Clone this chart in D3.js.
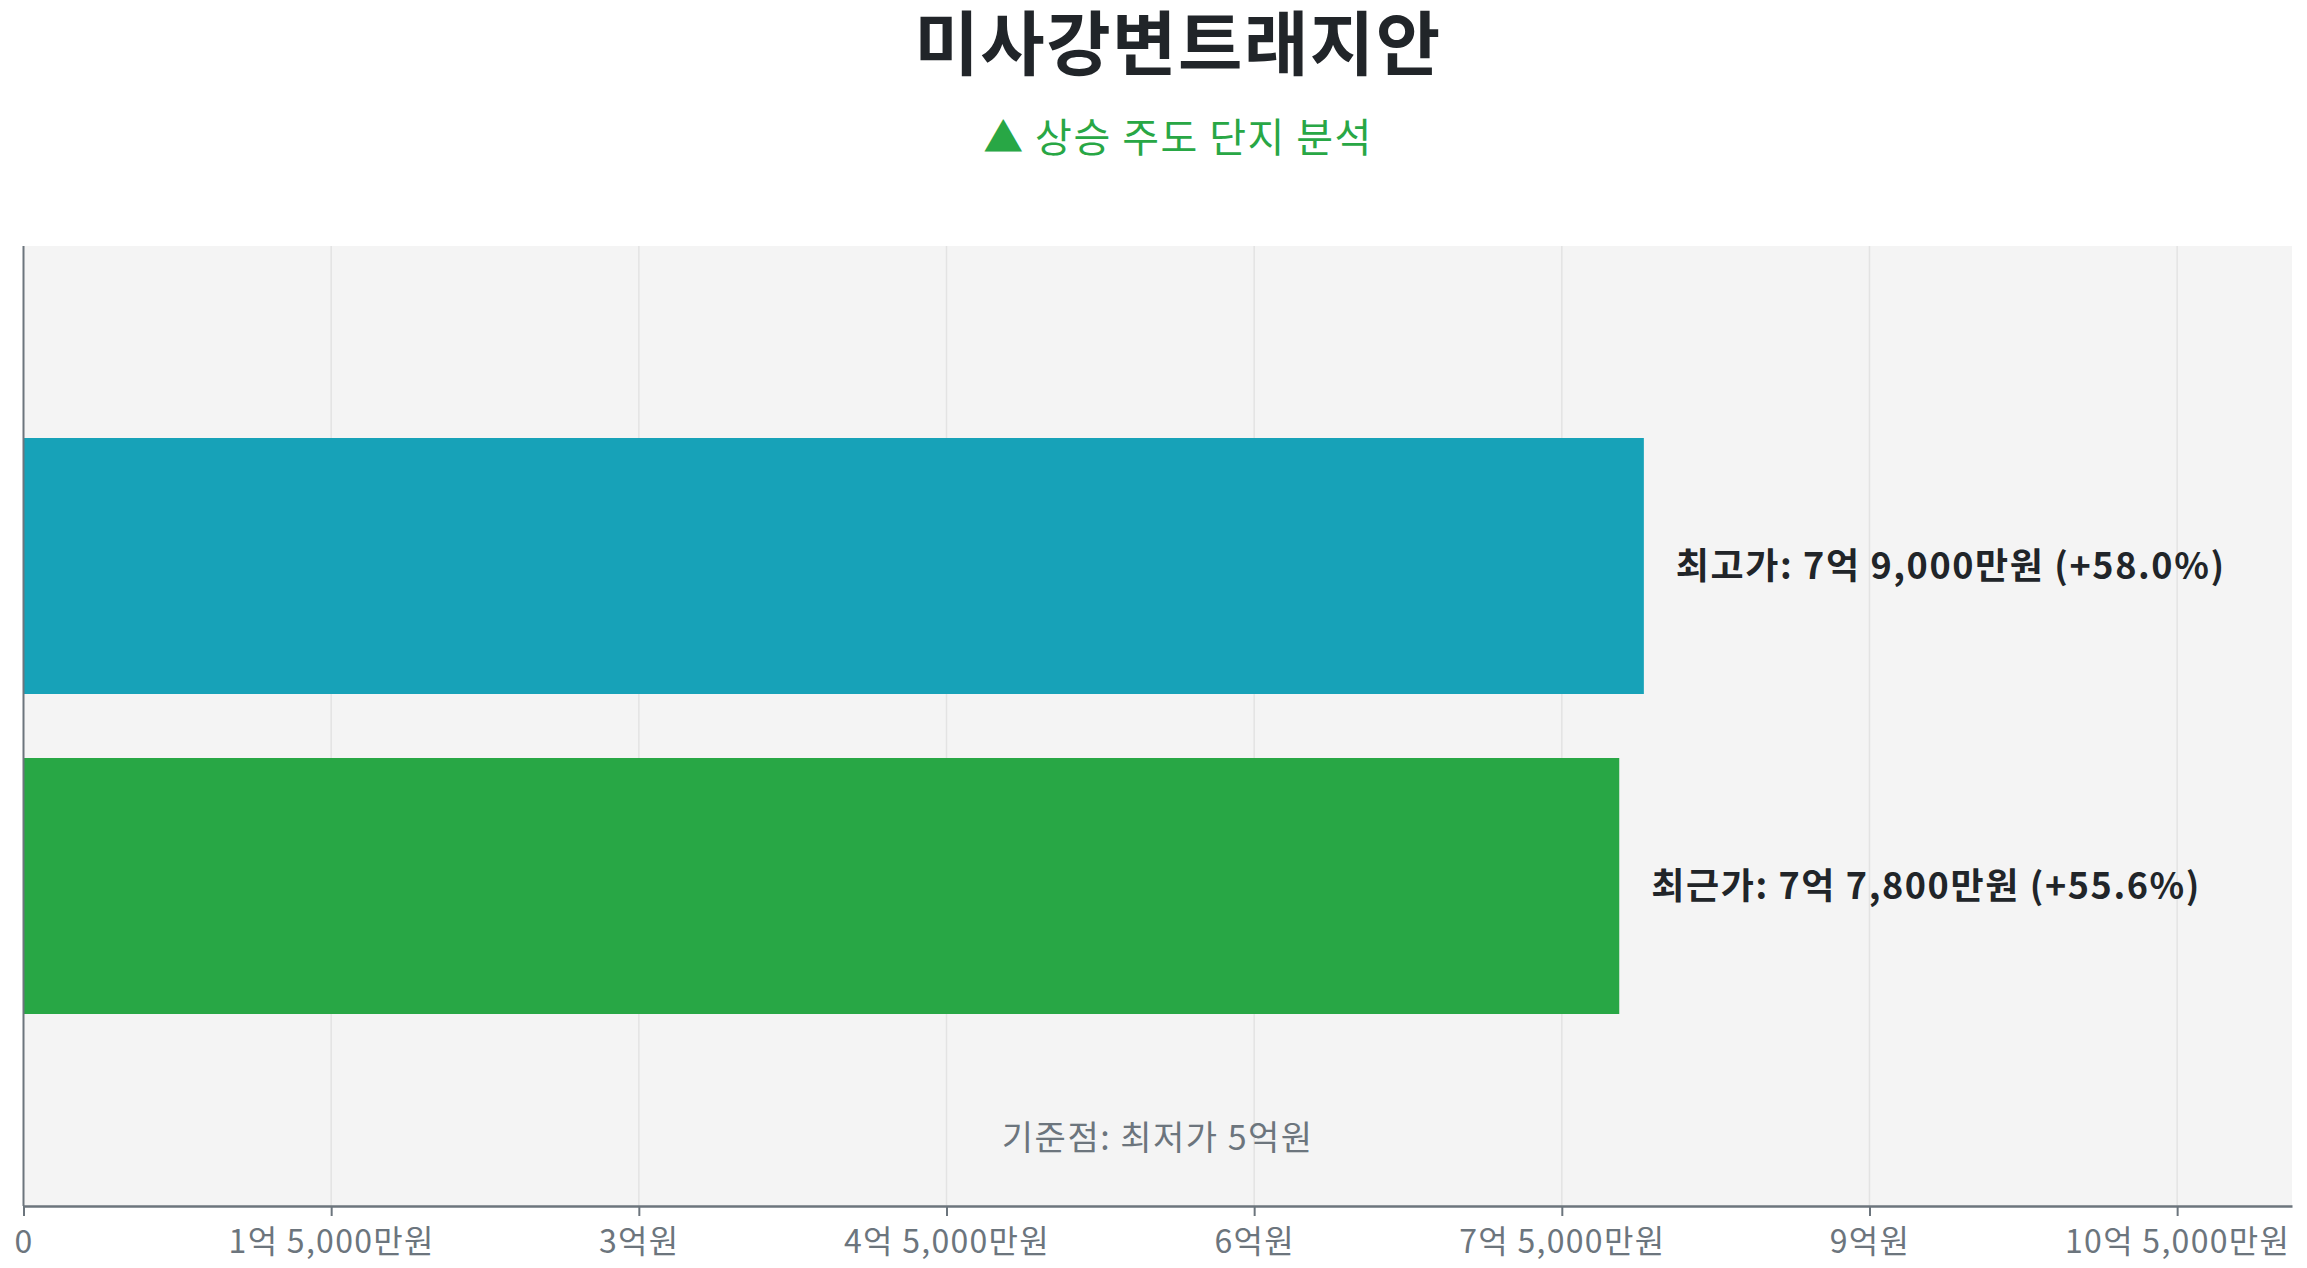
<!DOCTYPE html>
<html><head><meta charset="utf-8">
<script src="https://cdn.jsdelivr.net/npm/d3@7"></script>
<style>body{margin:0;background:#fff;font-family:"Noto Sans CJK KR","Noto Sans",sans-serif}</style>
</head><body><svg id="c" width="2307" height="1268"></svg>
<script>
const categories = ["최고가", "최근가"];
const values = [7.9, 7.78];
const changes = ["+58.0%", "+55.6%"];
const valueLabels = ["7억 9,000만원", "7억 7,800만원"];
const colors = ["#17a2b8", "#28a745"];
const tickValues = [0, 1.5, 3, 4.5, 6, 7.5, 9, 10.5];
const tickLabels = ["0", "1억 5,000만원", "3억원", "4억 5,000만원", "6억원", "7억 5,000만원", "9억원", "10억 5,000만원"];
const baseline = 5;

const svg = d3.select("#c");
const L = 23.5, R = 2292, T = 246, B = 1206;
const x = d3.scaleLinear().domain([0, 7.9 * 1.4]).range([L, R]);
const y = d3.scaleBand().domain(categories).range([T, B]).paddingInner(0.2).paddingOuter(0.6);

svg.append("rect").attr("x", L).attr("y", T).attr("width", R - L).attr("height", B - T).attr("fill", "#f4f4f4");
svg.append("g").selectAll("line").data(tickValues.slice(1)).join("line")
  .attr("x1", d => x(d)).attr("x2", d => x(d)).attr("y1", T).attr("y2", B)
  .attr("stroke", "#e3e3e3").attr("stroke-width", 1.5);

svg.append("g").selectAll("rect").data(categories).join("rect")
  .attr("x", L).attr("y", d => y(d)).attr("height", y.bandwidth())
  .attr("width", (d, i) => x(values[i]) - L).attr("fill", (d, i) => colors[i]);

svg.append("g").selectAll("text").data(categories).join("text")
  .attr("x", (d, i) => x(values[i]) + 32).attr("y", d => y(d) + y.bandwidth() / 2)
  .attr("dy", "0.35em").attr("font-size", 36).attr("letter-spacing", 1.6).attr("font-weight", "bold").attr("fill", "#212529")
  .text((d, i) => `${d}: ${valueLabels[i]} (${changes[i]})`);

const ax = svg.append("g").attr("transform", `translate(0,${B})`)
  .call(d3.axisBottom(x).tickValues(tickValues).tickFormat((d, i) => tickLabels[i]).tickSize(10).tickSizeOuter(0));
ax.select(".domain").attr("stroke", "#6c757d").attr("stroke-width", 2.5);
ax.selectAll(".tick line").attr("stroke", "#6c757d").attr("stroke-width", 2);
ax.selectAll(".tick text").attr("font-size", 32).attr("letter-spacing", 1.3).attr("fill", "#6c757d").attr("dy", "1.05em")
  .attr("font-family", '"Noto Sans CJK KR",sans-serif');
svg.append("line").attr("x1", L).attr("x2", L).attr("y1", T).attr("y2", B).attr("stroke", "#6c757d").attr("stroke-width", 2);

svg.append("text").attr("x", x(0) + (R - L) / 2).attr("y", 1150).attr("text-anchor", "middle")
  .attr("font-size", 34).attr("letter-spacing", 1.5).attr("fill", "#6c757d").text(`기준점: 최저가 ${baseline}억원`);

svg.append("text").attr("x", 1178).attr("y", 70).attr("text-anchor", "middle")
  .attr("font-size", 70).attr("letter-spacing", 1.5).attr("font-weight", "bold").attr("fill", "#212529").text("미사강변트래지안");
svg.append("text").attr("x", 1178).attr("y", 152).attr("text-anchor", "middle")
  .attr("font-size", 40).attr("letter-spacing", 1.5).attr("fill", "#28a745").text("▲ 상승 주도 단지 분석");
</script></body></html>
